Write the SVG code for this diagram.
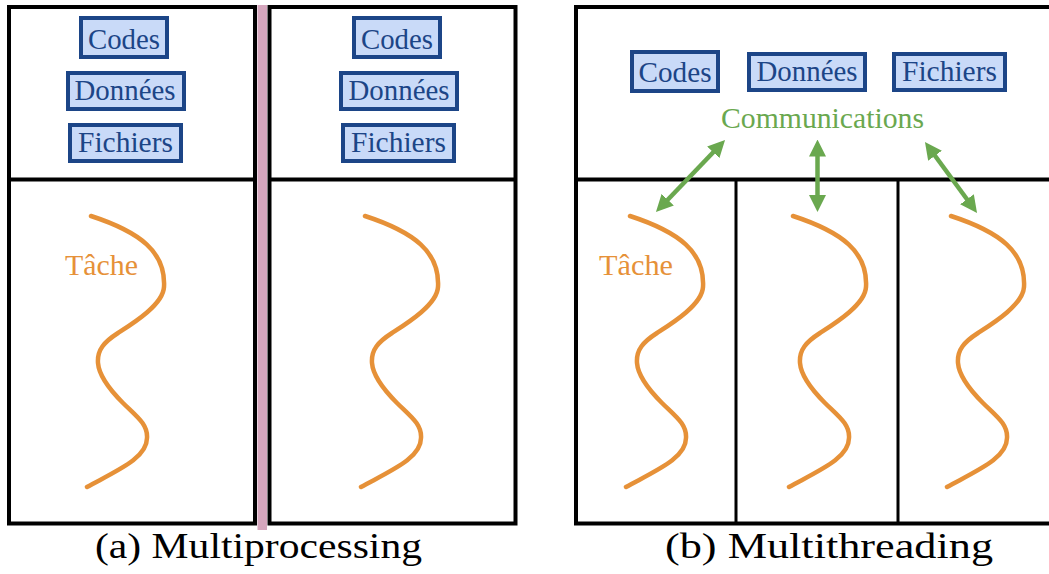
<svg xmlns="http://www.w3.org/2000/svg" xmlns:xlink="http://www.w3.org/1999/xlink" width="1049" height="574" viewBox="0 0 1049 574">
<style>
.frame{fill:none;stroke:#000;stroke-width:4}
.div{fill:none;stroke:#000;stroke-width:3}
.res{fill:#c9daf8;stroke:#1c4587;stroke-width:4}
text{font-family:'Liberation Serif','DejaVu Serif','Times New Roman',serif}
.rt{font-size:29px;fill:#1c4587;text-anchor:middle}
.task{font-size:29px;fill:#e69138;text-anchor:middle}
.comm{font-size:29px;fill:#6aa84f;text-anchor:middle}
.cap{font-size:35px;fill:#000}
.wave{fill:none;stroke:#e69138;stroke-width:4.5;stroke-linecap:round}
.arr{stroke:#6aa84f;stroke-width:4.5;fill:none;marker-start:url(#ah);marker-end:url(#ah)}
</style>
<defs>
<marker id="ah" markerUnits="userSpaceOnUse" markerWidth="17" markerHeight="17" refX="9" refY="8.5" orient="auto-start-reverse" viewBox="0 0 17 17">
<path d="M0,0 L17,8.5 L0,17 z" fill="#6aa84f"/>
</marker>
<path id="wave" class="wave" d="M91,216 C140,232 166,252 164,287 C163,305 132,324 118,333 C104,342 97,350 98,363 C99,376 110,390 123,403 C136,416 148,424 147,438 C147,458 118,470 87,487"/>
</defs>
<rect width="1049" height="574" fill="#fff"/>

<g id="process-a1">
<rect class="frame" x="9" y="7" width="246" height="516.5"/>
<line class="frame" x1="9" y1="179.5" x2="255" y2="179.5"/>
<g id="a1-codes"><rect class="res" x="81" y="18" width="86" height="39"/><text class="rt" x="124" y="49" textLength="72" lengthAdjust="spacingAndGlyphs">Codes</text></g>
<g id="a1-donnees"><rect class="res" x="68" y="73" width="116" height="36"/><text class="rt" x="125" y="100" textLength="101" lengthAdjust="spacingAndGlyphs">Données</text></g>
<g id="a1-fichiers"><rect class="res" x="70" y="125" width="111" height="36"/><text class="rt" x="125.5" y="152" textLength="95" lengthAdjust="spacingAndGlyphs">Fichiers</text></g>
<g id="a1-task"><use xlink:href="#wave"/><text class="task" x="101.5" y="275" textLength="73" lengthAdjust="spacingAndGlyphs">Tâche</text></g>
</g>

<rect id="separator" x="257.5" y="5" width="9.5" height="525" fill="#d5a6bd"/>

<g id="process-a2">
<rect class="frame" x="269.5" y="7" width="246" height="516.5"/>
<line class="frame" x1="269.5" y1="179.5" x2="515.5" y2="179.5"/>
<g id="a2-codes"><rect class="res" x="354" y="18" width="86" height="39"/><text class="rt" x="397" y="49" textLength="72" lengthAdjust="spacingAndGlyphs">Codes</text></g>
<g id="a2-donnees"><rect class="res" x="341" y="73" width="116" height="36"/><text class="rt" x="399" y="100" textLength="101" lengthAdjust="spacingAndGlyphs">Données</text></g>
<g id="a2-fichiers"><rect class="res" x="343" y="125" width="111" height="36"/><text class="rt" x="398.5" y="152" textLength="95" lengthAdjust="spacingAndGlyphs">Fichiers</text></g>
<g id="a2-task"><use xlink:href="#wave" x="274"/></g>
</g>

<g id="process-b">
<rect class="frame" x="576" y="7" width="480" height="516.5"/>
<line class="frame" x1="576" y1="179.5" x2="1056" y2="179.5"/>
<line class="div" x1="736" y1="179.5" x2="736" y2="523.5"/>
<line class="div" x1="898" y1="179.5" x2="898" y2="523.5"/>
<g id="b-codes"><rect class="res" x="632" y="52" width="86" height="39"/><text class="rt" x="675" y="82" textLength="73" lengthAdjust="spacingAndGlyphs">Codes</text></g>
<g id="b-donnees"><rect class="res" x="749" y="54" width="116" height="36"/><text class="rt" x="807" y="81" textLength="101" lengthAdjust="spacingAndGlyphs">Données</text></g>
<g id="b-fichiers"><rect class="res" x="894" y="54" width="111" height="36"/><text class="rt" x="949.5" y="81" textLength="95" lengthAdjust="spacingAndGlyphs">Fichiers</text></g>
<g id="b-comm"><text class="comm" x="822.5" y="128" textLength="203" lengthAdjust="spacingAndGlyphs">Communications</text></g>
<g id="b-task1"><use xlink:href="#wave" x="539"/><text class="task" x="636" y="275" textLength="74" lengthAdjust="spacingAndGlyphs">Tâche</text></g>
<g id="b-task2"><use xlink:href="#wave" x="702"/></g>
<g id="b-task3"><use xlink:href="#wave" x="860"/></g>
</g>

<g id="connectors">
<line class="arr" x1="719.5" y1="145.8" x2="661.5" y2="206.2"/>
<line class="arr" x1="817.5" y1="147.5" x2="817.5" y2="204"/>
<line class="arr" x1="929.7" y1="148.5" x2="972.3" y2="206.5"/>
</g>

<g id="captions">
<text class="cap" x="95" y="558" textLength="327" lengthAdjust="spacingAndGlyphs">(a) Multiprocessing</text>
<text class="cap" x="665" y="558" textLength="328" lengthAdjust="spacingAndGlyphs">(b) Multithreading</text>
</g>
</svg>
